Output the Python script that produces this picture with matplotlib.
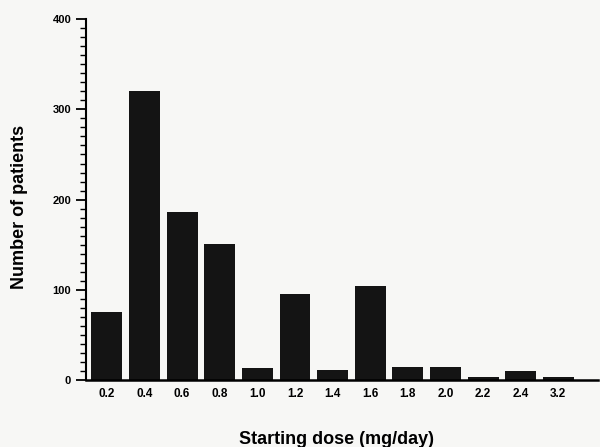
import matplotlib
matplotlib.use('Agg')
import matplotlib.pyplot as plt
from matplotlib.ticker import MultipleLocator

dose_labels = ['0.2', '0.4', '0.6', '0.8', '1.0', '1.2', '1.4',
               '1.6', '1.8', '2.0', '2.2', '2.4', '3.2']
patients = [75, 320, 186, 151, 13, 95, 11, 104, 14, 14, 3, 10, 3]


def main():
    plt.rcParams['font.family'] = ['Liberation Sans', 'DejaVu Sans']
    fig = plt.figure(figsize=(6, 4.47), dpi=100, facecolor='#f7f7f5')
    ax = fig.add_axes([0.143, 0.150, 0.854, 0.807])
    ax.set_facecolor('#f7f7f5')

    pos = list(range(len(dose_labels)))
    ax.bar(pos, patients, width=0.82, color='#141414')

    ax.set_xlim(-0.56, 13.06)
    ax.set_ylim(0, 400)
    ax.set_xticks(pos)
    ax.set_xticklabels(dose_labels, fontsize=8.5, fontweight='bold')
    ax.tick_params(axis='x', length=0, pad=6)

    ax.yaxis.set_major_locator(MultipleLocator(100))
    ax.yaxis.set_minor_locator(MultipleLocator(10))
    ax.tick_params(axis='y', which='major', length=7, width=1.3, labelsize=8)
    ax.tick_params(axis='y', which='minor', length=4, width=1.0)
    for lab in ax.get_yticklabels():
        lab.set_fontweight('bold')

    for s in ['top', 'right']:
        ax.spines[s].set_visible(False)
    ax.spines['left'].set_linewidth(1.5)
    ax.spines['bottom'].set_linewidth(1.8)

    ax.set_ylabel('Number of patients', fontsize=13, fontweight='bold')
    ax.yaxis.set_label_coords(-0.113, 0.48)
    ax.set_xlabel('Starting dose (mg/day)', fontsize=13, fontweight='bold')
    ax.xaxis.set_label_coords(0.489, -0.141)

    fig.savefig('out.png', dpi=100, facecolor=fig.get_facecolor())


if __name__ == "__main__":
    main()
